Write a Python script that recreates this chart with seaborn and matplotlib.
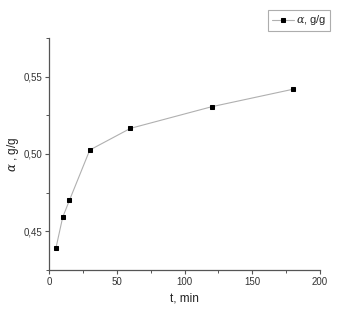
import matplotlib
matplotlib.use('Agg')
import matplotlib.pyplot as plt
import seaborn as sns
import pandas as pd
from matplotlib.ticker import MultipleLocator, FuncFormatter

# data
t_min = [5, 10, 15, 30, 60, 120, 180]
alpha_gg = [0.439, 0.459, 0.470, 0.5025, 0.5165, 0.5305, 0.5418]

df = pd.DataFrame({'t': t_min, 'alpha': alpha_gg})

sns.set_style('ticks')
plt.rcParams['font.family'] = ['Liberation Sans', 'DejaVu Sans']
plt.rcParams['mathtext.fontset'] = 'dejavuserif'

fig = plt.figure(figsize=(3.56, 3.24), dpi=100)
ax = fig.add_axes([0.138, 0.167, 0.761, 0.716])

sns.lineplot(data=df, x='t', y='alpha', ax=ax, color='#b0b0b0', linewidth=0.8,
             marker='s', markersize=3.4, markerfacecolor='black',
             markeredgecolor='black', label=r'$\alpha$, g/g')

ax.set_xlim(0, 200)
ax.set_ylim(0.425, 0.575)
ax.xaxis.set_major_locator(MultipleLocator(50))
ax.xaxis.set_minor_locator(MultipleLocator(25))
ax.yaxis.set_major_locator(MultipleLocator(0.05))
ax.yaxis.set_minor_locator(MultipleLocator(0.025))
ax.yaxis.set_major_formatter(FuncFormatter(lambda v, p: f'{v:.2f}'.replace('.', ',')))

for s in ['top', 'right']:
    ax.spines[s].set_visible(False)
for s in ['left', 'bottom']:
    ax.spines[s].set_color('#555555')
    ax.spines[s].set_linewidth(0.9)
ax.tick_params(which='major', length=3, width=0.8, color='#555555', labelsize=7, labelcolor='#333333', pad=2)
ax.tick_params(which='minor', length=2, width=0.7, color='#555555')

ax.set_xlabel('t, min', fontsize=8.5, color='#222222', labelpad=4)
ax.set_ylabel(r'$\alpha$ , g/g', fontsize=8.5, color='#222222', labelpad=2)

leg = ax.legend(loc='upper right', bbox_to_anchor=(1.037, 1.12), frameon=True,
                fancybox=False, edgecolor='#999999', fontsize=8,
                handlelength=2.0, handletextpad=0.2, borderpad=0.3,
                borderaxespad=0)
leg.get_frame().set_linewidth(0.8)

plt.savefig('out.png', dpi=100)
plt.close()
